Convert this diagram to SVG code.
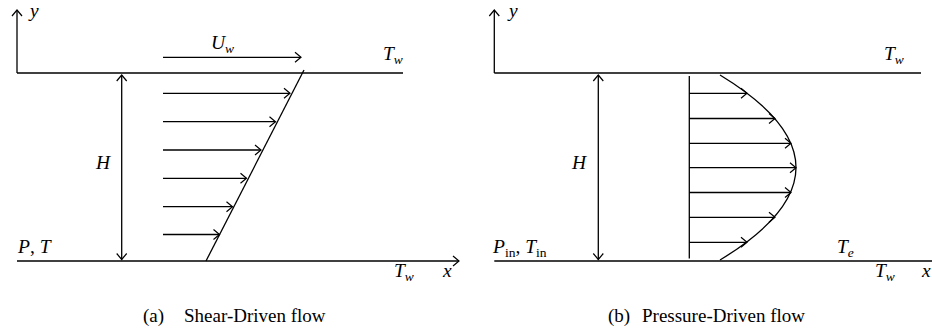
<svg xmlns="http://www.w3.org/2000/svg" width="932" height="332" viewBox="0 0 932 332">
<defs>
<marker id="ah" markerUnits="userSpaceOnUse" markerWidth="9" markerHeight="12" viewBox="0 0 9 12" refX="7.5" refY="6" orient="auto-start-reverse">
<path d="M1.5,1 L7.5,6 L1.5,11" fill="none" stroke="#000" stroke-width="1.2"/>
</marker>
</defs>
<style>
.ln{stroke:#000;stroke-width:1.3;fill:none}
.wall{stroke:#000;stroke-width:1.6;fill:none}
.ar{stroke:#000;stroke-width:1.3;fill:none;marker-end:url(#ah)}
.dar{stroke:#000;stroke-width:1.3;fill:none;marker-start:url(#ah);marker-end:url(#ah)}
.m{font-family:"Liberation Serif",serif;font-style:italic;font-size:19.5px;fill:#000}
.s{font-size:13.5px}
.r{font-style:normal}
.cap{font-family:"Liberation Serif",serif;font-size:19px;fill:#000}
</style>
<rect width="932" height="332" fill="#fff"/>

<g id="panel-a">
<g id="a-axes">
<line class="ar" x1="17" y1="73" x2="17" y2="10"/>
<line class="wall" x1="17" y1="73" x2="403" y2="73"/>
<line class="ar" x1="17" y1="261" x2="459" y2="261"/>
<text class="m" x="30" y="17">y</text>
<text class="m" x="443" y="277">x</text>
</g>
<g id="a-wall-velocity">
<line class="ar" x1="163" y1="57.3" x2="301" y2="57.3"/>
<text class="m" x="211" y="49">U<tspan class="s" dy="4">w</tspan></text>
</g>
<g id="a-profile">
<line class="ln" x1="206" y1="261" x2="304" y2="70"/>
<line class="ar" x1="163" y1="93.3" x2="290" y2="93.3"/>
<line class="ar" x1="163" y1="121.7" x2="275.5" y2="121.7"/>
<line class="ar" x1="163" y1="150" x2="261" y2="150"/>
<line class="ar" x1="163" y1="178.3" x2="246.5" y2="178.3"/>
<line class="ar" x1="163" y1="206.7" x2="232.5" y2="206.7"/>
<line class="ar" x1="163" y1="234.5" x2="219.5" y2="234.5"/>
</g>
<g id="a-height">
<line class="dar" x1="121.7" y1="75" x2="121.7" y2="259.5"/>
<text class="m" x="96" y="169">H</text>
</g>
<g id="a-labels">
<text class="m" x="383" y="60">T<tspan class="s" dy="4">w</tspan></text>
<text class="m" x="18" y="253">P<tspan class="r">, </tspan>T</text>
<text class="m" x="394" y="277">T<tspan class="s" dy="4">w</tspan></text>
</g>
<text class="cap" x="143" y="322">(a)<tspan x="184">Shear-Driven flow</tspan></text>
</g>

<g id="panel-b">
<g id="b-axes">
<line class="ar" x1="494.3" y1="73" x2="494.3" y2="10"/>
<line class="wall" x1="494.3" y1="73" x2="921" y2="73"/>
<line class="wall" x1="494.3" y1="261" x2="932" y2="261"/>
<text class="m" x="509" y="17">y</text>
<text class="m" x="922" y="277">x</text>
</g>
<g id="b-profile">
<line class="ln" x1="689.3" y1="76" x2="689.3" y2="258.5"/>
<path class="ln" d="M720,75 Q872,167.5 720,260"/>
<line class="ar" x1="689.3" y1="93.3" x2="747" y2="93.3"/>
<line class="ar" x1="689.3" y1="118.5" x2="775" y2="118.5"/>
<line class="ar" x1="689.3" y1="143.3" x2="791" y2="143.3"/>
<line class="ar" x1="689.3" y1="167.7" x2="796" y2="167.7"/>
<line class="ar" x1="689.3" y1="192.5" x2="791" y2="192.5"/>
<line class="ar" x1="689.3" y1="217.3" x2="775" y2="217.3"/>
<line class="ar" x1="689.3" y1="242.3" x2="747" y2="242.3"/>
</g>
<g id="b-height">
<line class="dar" x1="598.3" y1="75" x2="598.3" y2="259.5"/>
<text class="m" x="572" y="169">H</text>
</g>
<g id="b-labels">
<text class="m" x="884" y="60">T<tspan class="s" dy="4">w</tspan></text>
<text class="m" x="493" y="253">P<tspan class="s r" dy="4">in</tspan><tspan class="r" dy="-4">, </tspan>T<tspan class="s r" dy="4">in</tspan></text>
<text class="m" x="837" y="253">T<tspan class="s" dy="4">e</tspan></text>
<text class="m" x="875" y="277">T<tspan class="s" dy="4">w</tspan></text>
</g>
<text class="cap" x="608" y="322">(b)<tspan x="642">Pressure-Driven flow</tspan></text>
</g>
</svg>
